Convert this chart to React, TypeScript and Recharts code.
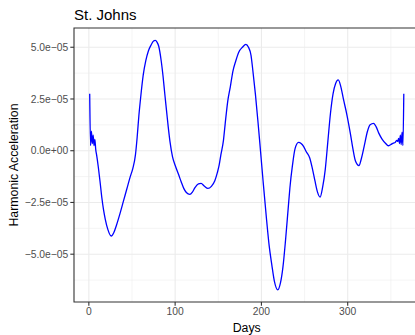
import { LineChart, Line, XAxis, YAxis, CartesianGrid, ReferenceArea } from 'recharts';

// harmonic acceleration, in units of 1e-05
const days = [
  1, 2, 3, 4, 5, 6, 7, 8, 9, 11, 13, 15, 17, 19, 22, 26, 29, 32, 36, 40,
  44, 48, 51, 54, 56, 58, 60, 63, 66, 69, 72, 75, 77, 79, 81, 84, 86, 88, 90, 92,
  94, 97, 100, 104, 107, 110, 113, 117, 120, 123, 127, 130, 134, 138, 142, 146, 149, 151, 153, 156,
  158, 161, 164, 167, 170, 174, 178, 182, 185, 188, 190, 193, 196, 198, 202, 206, 209, 212, 215, 219,
  222, 225, 228, 231, 233, 236, 239, 243, 246, 249, 252, 256, 259, 262, 265, 268, 271, 274, 277, 280,
  283, 286, 289, 292, 295, 299, 303, 306, 309, 313, 316, 319, 323, 326, 330, 333, 336, 340, 344, 347,
  350, 353, 355, 357, 358, 359, 360, 361, 362, 363, 364, 365,
];
const accel = [
  2.75, 0.25, 0.95, 0.35, 0.75, 0.25, 0.55, 0.05, -0.2, -0.8, -1.5, -2.25, -2.85, -3.3, -3.8, -4.12, -3.95, -3.6, -3.05, -2.45,
  -1.85, -1.25, -0.85, -0.2, 0.65, 1.7, 2.55, 3.65, 4.35, 4.82, 5.1, 5.3, 5.33, 5.25, 5.05, 4.3, 3.6, 2.75, 1.95, 1.15,
  0.45, -0.3, -0.7, -1.15, -1.5, -1.82, -2.02, -2.11, -2.0, -1.78, -1.6, -1.58, -1.72, -1.82, -1.72, -1.45, -1.05, -0.7, -0.2, 0.5,
  1.3, 2.4, 3.1, 3.85, 4.3, 4.78, 5.0, 5.14, 5.0, 4.6, 3.9, 2.75, 1.4, 0.45, -1.5, -3.35, -4.6, -5.5, -6.3, -6.72,
  -6.4, -5.6, -4.3, -2.8, -1.8, -0.7, 0.1, 0.4, 0.35, 0.2, -0.05, -0.35, -0.85, -1.45, -2.0, -2.24, -1.75, -0.9, 0.45, 1.8,
  2.75, 3.25, 3.42, 3.1, 2.5, 1.75, 0.85, 0.1, -0.5, -0.72, -0.35, 0.2, 0.95, 1.25, 1.32, 1.15, 0.85, 0.55, 0.35, 0.24,
  0.3, 0.37, 0.4, 0.5, 0.45, 0.6, 0.35, 0.75, 0.3, 0.9, 0.25, 2.75,
];
const xTicks = [0, 100, 200, 300];
const xMinor = [50, 150, 250, 350];
const yTicks = [-5, -2.5, 0, 2.5, 5];
const yMinor = [-6.25, -3.75, -1.25, 1.25, 3.75];

const data = days.map((d, i) => ({ day: d, acc: accel[i] }));

const xDomain = [-17.2, 383.2];
const yDomain = [-7.31, 5.93];

const fmtY = (v: number) =>
  v === 0 ? '0.0e+00' : (v < 0 ? '\u2212' : '') + Math.abs(v).toFixed(1) + 'e\u221205';

const YTitle = (props: any) => {
  const vb = props.viewBox || { x: 0, y: 28, width: 74, height: 274 };
  const cy = vb.y + vb.height / 2;
  return (
    <text x={17.5} y={cy} transform={`rotate(-90, 17.5, ${cy})`} textAnchor="middle" fontSize={12.3} fill="#000">
      Harmonic Acceleration
    </text>
  );
};

const XTitle = (props: any) => {
  const vb = props.viewBox || { x: 74, y: 302, width: 345, height: 33 };
  return (
    <text x={vb.x + vb.width / 2} y={vb.y + vb.height - 3.5} textAnchor="middle" fontSize={12.3} fill="#000">
      Days
    </text>
  );
};

export default function App() {
  return (
    <div
      style={{
        position: 'absolute', left: 0, top: 0, width: 415, height: 335, overflow: 'hidden',
        background: '#fff', fontFamily: '"Liberation Sans", Arial, sans-serif',
      }}
    >
      <div style={{ position: 'absolute', left: 74, top: 6.5, fontSize: 15, lineHeight: '15px', color: '#000' }}>
        St. Johns
      </div>
      <LineChart width={430} height={335} data={data} margin={{ top: 28, right: 10.5, bottom: 0, left: 0 }}>
        <CartesianGrid verticalValues={xMinor} horizontalValues={yMinor} stroke="#ebebeb" strokeWidth={0.55} />
        <CartesianGrid verticalValues={xTicks} horizontalValues={yTicks} stroke="#ebebeb" strokeWidth={1.1} />
        <XAxis
          dataKey="day" type="number" domain={xDomain} ticks={xTicks} allowDataOverflow
          height={33} tickSize={3.7} tickMargin={2} axisLine={false}
          tickLine={{ stroke: '#333333', strokeWidth: 1.1 }}
          tick={{ fill: '#4d4d4d', fontSize: 10.3 }}
          label={<XTitle />}
        />
        <YAxis
          type="number" domain={yDomain} ticks={yTicks} allowDataOverflow
          width={74} tickSize={3.7} tickMargin={2} axisLine={false}
          tickLine={{ stroke: '#333333', strokeWidth: 1.1 }}
          tick={{ fill: '#4d4d4d', fontSize: 10.3 }}
          tickFormatter={fmtY}
          label={<YTitle />}
        />
        <Line type="monotone" dataKey="acc" stroke="#0000ff" strokeWidth={1.3} dot={false} isAnimationActive={false} />
        <ReferenceArea
          x1={xDomain[0]} x2={xDomain[1]} y1={yDomain[0]} y2={yDomain[1]}
          fill="none" stroke="#333333" strokeWidth={1.1} fillOpacity={0} ifOverflow="visible"
        />
      </LineChart>
    </div>
  );
}
